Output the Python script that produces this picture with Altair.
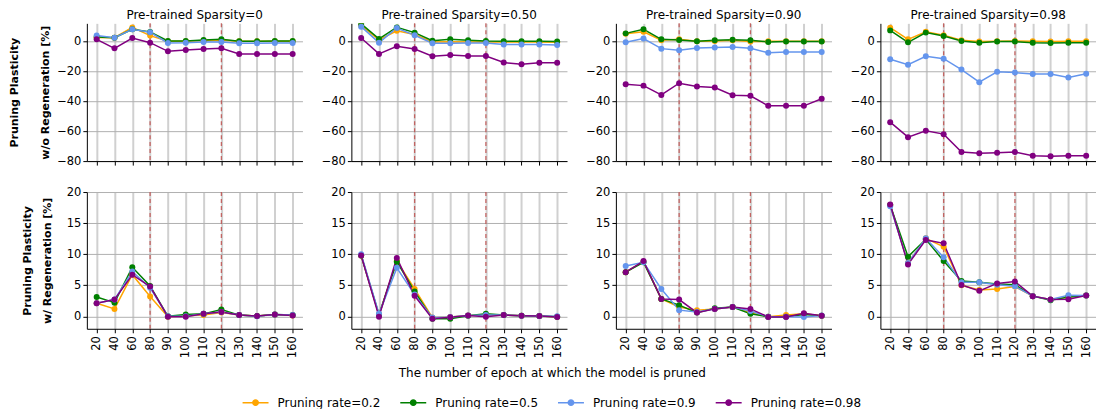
import altair as alt
import pandas as pd

epochs = ["20", "40", "60", "80", "90", "100", "110", "120", "130", "140", "150", "160"]
rates = ["Pruning rate=0.2", "Pruning rate=0.5", "Pruning rate=0.9", "Pruning rate=0.98"]
colors = ["#FFA500", "#008000", "#6495ED", "#800080"]
sparsity_titles = ["Pre-trained Sparsity=0", "Pre-trained Sparsity=0.50",
                   "Pre-trained Sparsity=0.90", "Pre-trained Sparsity=0.98"]
pruned_marks = ["80", "120"]

# ---- w/o Regeneration (top row) ----
wo_s000_r02 = [2.5, 2.4, 9.3, 3.8, 0.0, 0.0, 0.5, 0.9, 0.0, 0.0, 0.0, 0.0]
wo_s000_r05 = [2.9, 2.4, 8.0, 6.2, 0.2, 0.2, 0.9, 1.3, 0.0, 0.0, 0.2, 0.2]
wo_s000_r09 = [3.8, 2.4, 8.0, 6.0, -1.1, -0.9, -0.4, -0.4, -1.3, -1.3, -1.1, -1.1]
wo_s000_r098 = [1.3, -4.7, 2.2, -0.9, -6.7, -5.8, -5.1, -4.7, -8.4, -8.4, -8.4, -8.4]

wo_s050_r02 = [10.5, 1.0, 7.0, 4.5, -0.5, -0.3, -0.5, -0.5, -0.5, -0.5, -0.5, -0.7]
wo_s050_r05 = [11.6, 1.6, 9.3, 5.8, 0.4, 1.3, 0.7, 0.2, 0.0, 0.0, 0.0, -0.2]
wo_s050_r09 = [9.8, -0.9, 8.9, 4.0, -1.3, -1.3, -1.1, -1.1, -2.2, -2.2, -2.2, -2.4]
wo_s050_r098 = [2.2, -8.4, -3.3, -5.1, -10.0, -9.1, -9.8, -9.8, -14.2, -15.3, -14.4, -14.4]

wo_s090_r02 = [5.1, 6.4, 0.7, 1.3, 0.0, 0.2, 0.7, -0.2, 0.0, 0.0, 0.0, 0.0]
wo_s090_r05 = [5.3, 8.0, 1.3, 0.9, 0.0, 0.7, 1.1, 0.7, -0.4, -0.2, -0.2, -0.2]
wo_s090_r09 = [-0.7, 1.8, -4.9, -6.0, -4.4, -4.2, -3.8, -4.7, -7.6, -7.1, -7.1, -7.1]
wo_s090_r098 = [-28.7, -29.6, -35.8, -28.0, -30.2, -30.9, -36.0, -36.4, -43.1, -43.1, -43.1, -38.4]

wo_s098_r02 = [9.1, 1.3, 6.4, 4.0, 0.7, -0.2, 0.0, 0.2, 0.0, -0.2, 0.0, 0.0]
wo_s098_r05 = [7.3, -0.7, 5.8, 3.6, 0.2, -0.9, -0.2, -0.2, -0.9, -1.1, -0.9, -0.9]
wo_s098_r09 = [-12.0, -15.6, -10.0, -11.6, -18.9, -27.3, -20.4, -20.9, -21.8, -21.8, -24.2, -21.6]
wo_s098_r098 = [-54.0, -64.0, -59.8, -62.0, -74.0, -74.7, -74.4, -74.0, -76.4, -76.7, -76.4, -76.4]

# ---- w/ Regeneration (bottom row) ----
w_s000_r02 = [2.1, 1.2, 6.7, 3.2, -0.05, 0.1, 0.2, 0.6, 0.2, 0.05, 0.3, 0.15]
w_s000_r05 = [3.1, 2.2, 7.9, 4.9, 0.0, 0.3, 0.4, 1.1, 0.2, 0.05, 0.3, 0.2]
w_s000_r09 = [2.1, 2.7, 7.2, 4.6, 0.0, 0.0, 0.4, 0.7, 0.2, 0.0, 0.3, 0.2]
w_s000_r098 = [2.1, 2.7, 6.7, 4.8, -0.05, -0.05, 0.4, 0.7, 0.2, 0.05, 0.3, 0.15]

w_s050_r02 = [9.8, 0.2, 8.9, 4.4, -0.2, -0.1, 0.15, 0.2, 0.2, 0.1, 0.05, -0.05]
w_s050_r05 = [9.8, 0.3, 8.8, 4.0, -0.4, -0.4, 0.1, 0.4, 0.2, 0.1, 0.05, -0.05]
w_s050_r09 = [10.0, 0.4, 7.8, 3.5, -0.2, -0.1, 0.15, 0.2, 0.2, 0.1, 0.05, 0.0]
w_s050_r098 = [9.8, -0.05, 9.4, 3.3, -0.4, -0.15, 0.15, -0.05, 0.2, 0.1, 0.05, -0.1]

w_s090_r02 = [7.1, 8.8, 2.8, 1.5, 1.0, 1.2, 1.5, 0.6, -0.05, 0.2, 0.4, 0.1]
w_s090_r05 = [7.1, 8.7, 2.8, 1.8, 0.6, 1.3, 1.5, 0.4, -0.05, -0.05, 0.3, 0.1]
w_s090_r09 = [8.1, 8.7, 4.4, 1.0, 0.7, 1.2, 1.5, 0.85, -0.05, -0.05, -0.1, 0.15]
w_s090_r098 = [7.1, 8.9, 2.8, 2.7, 0.6, 1.2, 1.5, 1.2, -0.1, -0.1, 0.5, 0.1]

w_s098_r02 = [17.9, 8.6, 12.55, 11.2, 5.0, 4.25, 4.4, 4.8, 3.25, 2.7, 3.1, 3.35]
w_s098_r05 = [17.9, 9.6, 12.4, 8.9, 5.7, 5.5, 5.2, 5.1, 3.25, 2.6, 3.1, 3.35]
w_s098_r09 = [17.7, 8.6, 12.55, 9.5, 5.5, 5.5, 5.1, 4.85, 3.25, 2.7, 3.4, 3.35]
w_s098_r098 = [18.0, 8.35, 12.3, 11.75, 5.05, 4.1, 5.3, 5.6, 3.25, 2.7, 2.75, 3.35]

top_series = [
    [wo_s000_r02, wo_s000_r05, wo_s000_r09, wo_s000_r098],
    [wo_s050_r02, wo_s050_r05, wo_s050_r09, wo_s050_r098],
    [wo_s090_r02, wo_s090_r05, wo_s090_r09, wo_s090_r098],
    [wo_s098_r02, wo_s098_r05, wo_s098_r09, wo_s098_r098],
]
bottom_series = [
    [w_s000_r02, w_s000_r05, w_s000_r09, w_s000_r098],
    [w_s050_r02, w_s050_r05, w_s050_r09, w_s050_r098],
    [w_s090_r02, w_s090_r05, w_s090_r09, w_s090_r098],
    [w_s098_r02, w_s098_r05, w_s098_r09, w_s098_r098],
]

FONT = "DejaVu Sans"
PW = 216
color_scale = alt.Scale(domain=rates, range=colors)
x_scale = alt.Scale(domain=epochs, type="point", padding=0.55)
legend_symbol = "M-1.6,0L1.6,0M-0.33,0a0.33,0.33 0 1,0 0.66,0a0.33,0.33 0 1,0 -0.66,0"
minus_expr = "replace(datum.label, '-', '\u2212')"


def make_df(series_list):
    rows = []
    for rate, vals in zip(rates, series_list):
        for ep, v in zip(epochs, vals):
            rows.append({"epoch": ep, "rate": rate, "value": v})
    return pd.DataFrame(rows)


def panel(series_list, top, col):
    df = make_df(series_list)
    common_x = dict(title=None, grid=True, gridColor="#d0d0d0", gridWidth=2, tickSize=4,
                    domainColor="black", tickColor="black", labelFontSize=11.5)
    if top:
        xaxis = alt.Axis(labels=False, ticks=True, **common_x)
        ydom = [-80, 12]
        yvals = [-80, -60, -40, -20, 0]
        ytitle = ["Pruning Plasticity", "w/o Regeneration [%]"]
        lh, tp = 31, 6
        h = 138
    else:
        xaxis = alt.Axis(labelAngle=270, labelPadding=3, **common_x)
        ydom = [-2, 20]
        yvals = [0, 5, 10, 15, 20]
        ytitle = ["Pruning Plasticity", "w/ Regeneration [%]"]
        lh, tp = 20, 14
        h = 137
    common_y = dict(values=yvals, grid=True, gridColor="#b0b0b0", gridWidth=1, tickSize=4,
                    domainColor="black", tickColor="black", labelExpr=minus_expr,
                    labelFontSize=11.5, labelPadding=2)
    if col == 0:
        yaxis = alt.Axis(title=ytitle, titleFontWeight="bold", titleFontSize=11,
                         titleLineHeight=lh, titlePadding=tp, **common_y)
    else:
        yaxis = alt.Axis(title=None, **common_y)

    x = alt.X("epoch:N", sort=epochs, scale=x_scale, axis=xaxis)
    y = alt.Y("value:Q", scale=alt.Scale(domain=ydom, nice=False, zero=False), axis=yaxis)

    rule_df = pd.DataFrame({"epoch": pruned_marks})
    rules = alt.Chart(rule_df).mark_rule(
        color="#c0504d", strokeDash=[4, 3], strokeWidth=1.3, opacity=0.85
    ).encode(x=alt.X("epoch:N", sort=epochs, scale=x_scale, axis=xaxis))

    color = alt.Color("rate:N", scale=color_scale, sort=rates,
                      legend=alt.Legend(title=None, orient="none", direction="horizontal",
                                        legendX=160, legendY=371,
                                        columns=4, symbolType=legend_symbol, symbolSize=264,
                                        symbolStrokeWidth=1.5, labelFontSize=12,
                                        labelFont=FONT, columnPadding=16, labelOffset=13))
    base = alt.Chart(df).encode(x=x, y=y, color=color)
    lines = base.mark_line(strokeWidth=1.5, clip=True)
    pts = base.mark_circle(size=36, opacity=1, clip=True)
    layer = alt.layer(rules, lines, pts).properties(width=PW, height=h)
    if top:
        layer = layer.properties(title=alt.TitleParams(sparsity_titles[col], fontSize=12,
                                                      font=FONT, fontWeight="normal",
                                                      offset=1))
    return layer


charts = [panel(top_series[c], True, c) for c in range(4)] + \
         [panel(bottom_series[c], False, c) for c in range(4)]

chart = alt.concat(*charts, columns=4, spacing={"row": 19, "column": 18})
chart = chart.properties(
    align="each",
    padding={"left": 0, "top": 0, "right": 0, "bottom": 0},
    title=alt.TitleParams("The number of epoch at which the model is pruned",
                          orient="bottom", anchor="middle", fontSize=12,
                          fontWeight="normal", font=FONT, offset=10, dy=-51),
).configure_axis(
    labelFont=FONT, labelColor="black", titleFont=FONT, titleColor="black",
).configure_view(stroke=None).configure_legend(labelColor="black")

chart.save("out.html", embed_options={"renderer": "svg", "actions": False})
